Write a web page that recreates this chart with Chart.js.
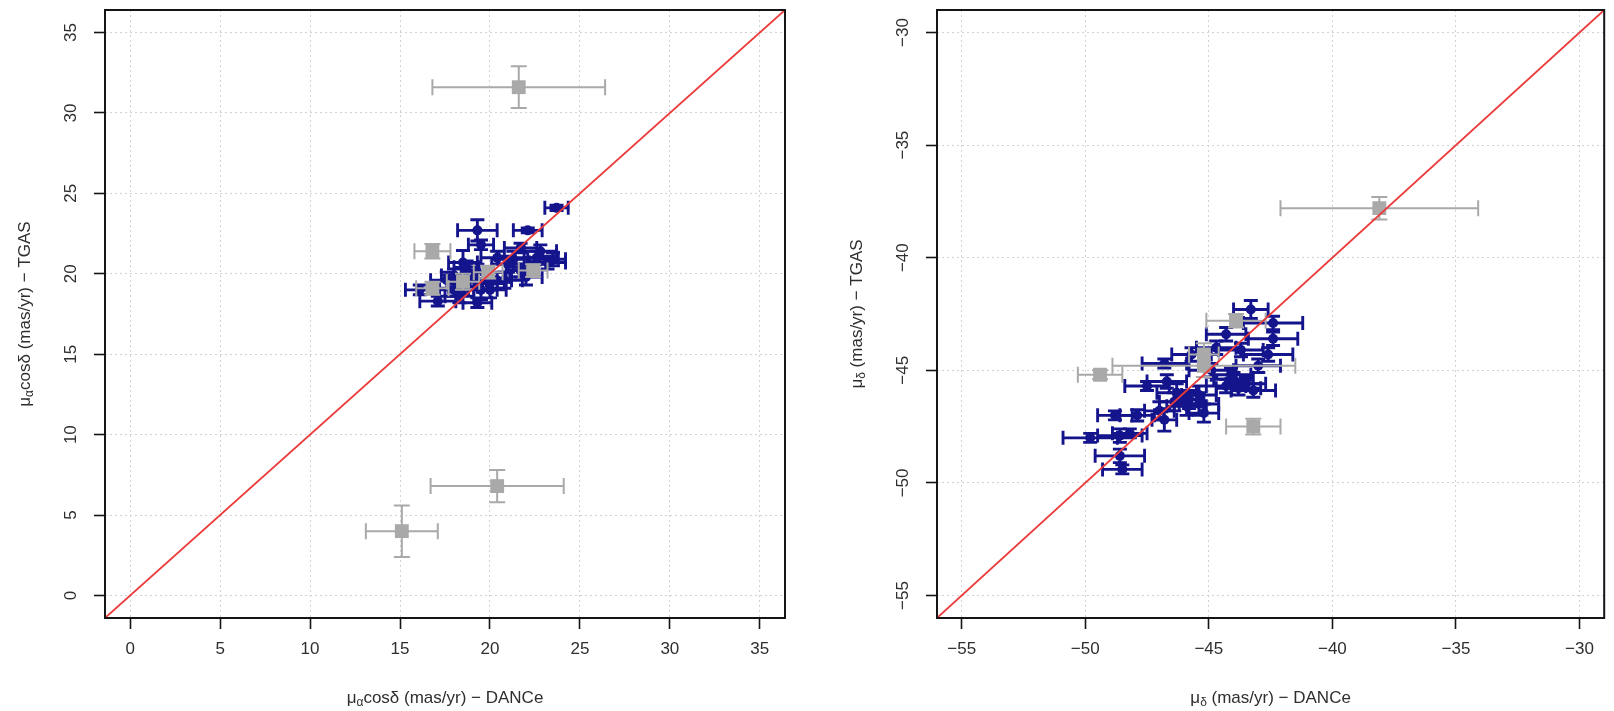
<!DOCTYPE html>
<html>
<head>
<meta charset="utf-8">
<script src="https://cdn.jsdelivr.net/npm/chart.js@4.4.1/dist/chart.umd.min.js"></script>
<style>
    body { margin: 0; background: #fff; }
    .wrap { position: relative; width: 1614px; height: 711px; }
    .panel { position: absolute; top: 0; height: 711px; }
    #panelRa { left: 0; width: 800px; }
    #panelDec { left: 800px; width: 814px; }
</style>
</head>
<body>
<div class="wrap">
    <div class="panel" id="panelRa"><canvas id="raChart"></canvas></div>
    <div class="panel" id="panelDec"><canvas id="decChart"></canvas></div>
</div>
<script>
// pmRA (mu_alpha cos delta), mas/yr -- members
const raMemDance = [23.7, 19.3, 22.1, 21.7, 19.5, 18.5, 20.4, 21.3, 22.6, 23.2, 21.0, 19.3, 18.7, 17.6, 17.1, 18.3,
                    19.3, 20.0, 20.8, 22.0, 21.7, 20.4, 19.5, 18.0, 16.1, 18.9, 22.8, 23.5, 20.0, 18.0, 22.2, 18.5];
const raMemTgas  = [24.1, 22.7, 22.7, 21.6, 21.8, 20.7, 21.0, 20.9, 21.0, 20.7, 20.6, 20.1, 20.4, 19.6, 18.3, 18.6,
                    18.2, 19.0, 19.6, 19.8, 20.2, 19.6, 19.0, 19.0, 19.0, 19.7, 21.4, 20.9, 19.4, 19.9, 20.6, 19.2];
const raMemErrDance = [0.65, 1.1, 0.8, 0.9, 0.7, 0.8, 0.9, 0.8, 1.2, 1.0, 0.9, 0.9, 0.7, 0.9, 1.0, 0.8,
                       0.8, 0.9, 1.0, 0.9, 0.8, 0.8, 0.9, 0.8, 0.8, 0.9, 0.9, 0.7, 0.8, 0.7, 0.9, 0.8];
const raMemErrTgas  = [0.17, 0.66, 0.15, 0.3, 0.3, 0.75, 0.4, 0.5, 0.4, 0.4, 0.5, 0.5, 0.4, 0.5, 0.3, 0.4,
                       0.3, 0.5, 0.5, 0.5, 0.4, 0.5, 0.6, 0.4, 0.3, 0.5, 0.4, 0.4, 0.4, 0.4, 0.4, 0.4];
// pmRA -- other sources
const raOthDance = [21.6, 20.4, 15.1, 16.8, 16.8, 18.5, 19.9, 22.4];
const raOthTgas  = [31.6, 6.8, 4.0, 21.4, 19.1, 19.5, 20.1, 20.2];
const raOthErrDance = [4.8, 3.7, 2.0, 1.0, 0.9, 0.9, 0.8, 0.8];
const raOthErrTgas  = [1.3, 1.0, 1.6, 0.45, 0.4, 0.5, 0.4, 0.4];

// pmDec (mu_delta), mas/yr -- members
const decMemDance = [-49.8, -48.8, -47.9, -48.6, -48.5, -48.6, -48.2, -47.5, -46.7, -46.3, -46.8, -47.0, -45.9, -45.4,
                     -45.4, -45.2, -44.0, -43.8, -43.5, -43.2, -44.3, -45.8, -46.4, -43.3, -42.4, -42.4, -43.7, -44.3,
                     -43.0, -44.1, -46.8, -45.7, -44.7, -44.9, -42.6];
const decMemTgas  = [-48.0, -47.0, -47.0, -48.8, -49.4, -47.9, -47.8, -45.7, -45.5, -46.0, -47.2, -46.8, -46.6, -46.1,
                     -46.5, -46.9, -45.4, -45.8, -45.6, -45.9, -45.7, -46.3, -46.4, -42.3, -42.9, -43.6, -44.1, -43.4,
                     -44.8, -45.2, -44.7, -44.3, -44.0, -45.0, -44.3];
const decMemErrDance = [1.1, 0.7, 0.7, 1.0, 0.8, 0.9, 0.7, 0.9, 0.8, 0.8, 0.5, 0.6, 0.8, 0.7,
                        0.8, 0.6, 0.8, 0.9, 0.8, 0.9, 0.8, 0.6, 0.6, 0.7, 1.2, 1.0, 0.9, 0.8,
                        0.9, 0.8, 0.9, 0.8, 0.8, 0.9, 1.0];
const decMemErrTgas  = [0.2, 0.2, 0.25, 0.3, 0.2, 0.3, 0.2, 0.2, 0.3, 0.4, 0.5, 0.4, 0.4, 0.4,
                        0.5, 0.4, 0.3, 0.3, 0.3, 0.3, 0.3, 0.4, 0.4, 0.4, 0.3, 0.3, 0.3, 0.3,
                        0.3, 0.3, 0.2, 0.3, 0.3, 0.3, 0.3];
// pmDec -- other sources
const decOthDance = [-38.1, -43.2, -49.4, -43.9, -45.2, -45.2];
const decOthTgas  = [-37.8, -47.5, -45.2, -42.8, -44.3, -44.8];
const decOthErrDance = [4.0, 1.1, 0.9, 1.2, 0.6, 3.7];
const decOthErrTgas  = [0.5, 0.35, 0.2, 0.3, 0.5, 0.5];

// axis ranges and tick step
const raLimits = [-1.4, 36.4];
const decLimits = [-56, -29];
const tickStep = 5;

const FONT = "'Liberation Sans', Arial, Helvetica, sans-serif";
const TEXT = '#2e2e2e';
const MEMBER = '#14148c';
const OTHER = '#a9a9a9';

function toPoints(xs, ys) {
    return xs.map((x, i) => ({ x: x, y: ys[i] }));
}

function fmt(v) {
    return String(v).replace('-', '\u2212');
}

// draws x/y error bars with flat caps right before the owning dataset
const errorBars = {
    id: 'errorBars',
    beforeDatasetDraw(chart, args) {
        const ds = chart.data.datasets[args.index];
        if (!ds.errX) return;
        const xs = chart.scales.x, ys = chart.scales.y, ctx = chart.ctx, a = chart.chartArea;
        const cap = ds.capSize;
        ctx.save();
        ctx.beginPath();
        ctx.rect(a.left, a.top, a.right - a.left, a.bottom - a.top);
        ctx.clip();
        ctx.strokeStyle = ds.barColor;
        ctx.lineWidth = ds.barWidth;
        ds.data.forEach((p, i) => {
            const px = xs.getPixelForValue(p.x), py = ys.getPixelForValue(p.y);
            const x0 = xs.getPixelForValue(p.x - ds.errX[i]), x1 = xs.getPixelForValue(p.x + ds.errX[i]);
            const y0 = ys.getPixelForValue(p.y - ds.errY[i]), y1 = ys.getPixelForValue(p.y + ds.errY[i]);
            ctx.beginPath();
            ctx.moveTo(x0, py); ctx.lineTo(x1, py);
            ctx.moveTo(x0, py - cap); ctx.lineTo(x0, py + cap);
            ctx.moveTo(x1, py - cap); ctx.lineTo(x1, py + cap);
            ctx.moveTo(px, y0); ctx.lineTo(px, y1);
            ctx.moveTo(px - cap, y0); ctx.lineTo(px + cap, y0);
            ctx.moveTo(px - cap, y1); ctx.lineTo(px + cap, y1);
            ctx.stroke();
        });
        ctx.restore();
    }
};

// text pieces: [string, isSubscript]
function drawRich(ctx, parts, size) {
    const subSize = Math.round(size * 0.7);
    let total = 0;
    parts.forEach(([t, sub]) => {
        ctx.font = (sub ? subSize : size) + 'px ' + FONT;
        total += ctx.measureText(t).width;
    });
    let x = -total / 2;
    parts.forEach(([t, sub]) => {
        ctx.font = (sub ? subSize : size) + 'px ' + FONT;
        ctx.fillText(t, x, sub ? size * 0.3 : 0);
        x += ctx.measureText(t).width;
    });
}

// frame, rotated y tick labels and axis titles
const frame = {
    id: 'frame',
    afterDraw(chart, args, opts) {
        const ctx = chart.ctx, a = chart.chartArea, ys = chart.scales.y;
        ctx.save();
        ctx.strokeStyle = '#151515';
        ctx.lineWidth = 2;
        ctx.strokeRect(a.left, a.top, a.right - a.left, a.bottom - a.top);

        ctx.fillStyle = TEXT;
        ctx.textBaseline = 'middle';
        ys.ticks.forEach(t => {
            const y = ys.getPixelForValue(t.value);
            ctx.save();
            ctx.translate(a.left - 34, y);
            ctx.rotate(-Math.PI / 2);
            ctx.font = '17px ' + FONT;
            ctx.textAlign = 'center';
            ctx.fillText(fmt(t.value), 0, 0);
            ctx.restore();
        });

        ctx.textAlign = 'left';
        ctx.save();
        ctx.translate((a.left + a.right) / 2, a.bottom + 80);
        drawRich(ctx, opts.xTitle, 17);
        ctx.restore();

        ctx.save();
        ctx.translate(a.left - 80, (a.top + a.bottom) / 2);
        ctx.rotate(-Math.PI / 2);
        drawRich(ctx, opts.yTitle, 17);
        ctx.restore();
        ctx.restore();
    }
};

function makeChart(id, cfg) {
    const axis = (lim) => ({
        type: 'linear',
        min: lim[0],
        max: lim[1],
        ticks: {
            stepSize: tickStep,
            includeBounds: false,
            color: TEXT,
            font: { family: FONT, size: 17 },
            padding: 10,
            maxRotation: 0,
            callback: v => fmt(v)
        },
        grid: { color: '#d2d2d2', lineWidth: 1, tickLength: 11, tickColor: '#151515', tickWidth: 1.6 },
        border: { display: false, dash: [2, 3] }
    });
    const xAxis = axis(cfg.limits);
    xAxis.afterFit = s => { s.height = 93; };
    const yAxis = axis(cfg.limits);
    yAxis.ticks.display = false;
    yAxis.afterFit = s => { s.width = cfg.yWidth; };

    return new Chart(document.getElementById(id), {
        type: 'scatter',
        data: {
            datasets: [
                {
                    label: 'x = y',
                    type: 'line',
                    data: toPoints(cfg.limits, cfg.limits),
                    borderColor: '#ec3b3b',
                    borderWidth: 1.8,
                    pointRadius: 0,
                    showLine: true
                },
                {
                    label: 'other',
                    data: toPoints(cfg.othX, cfg.othY),
                    errX: cfg.othEx, errY: cfg.othEy,
                    barColor: OTHER, barWidth: 2, capSize: 8,
                    pointStyle: 'rect',
                    pointRadius: 9.8,
                    backgroundColor: OTHER,
                    borderWidth: 0
                },
                {
                    label: 'members',
                    data: toPoints(cfg.memX, cfg.memY),
                    errX: cfg.memEx, errY: cfg.memEy,
                    barColor: MEMBER, barWidth: 2.9, capSize: 7,
                    pointRadius: 5,
                    backgroundColor: MEMBER,
                    borderWidth: 0
                }
            ]
        },
        options: {
            responsive: true,
            maintainAspectRatio: false,
            animation: false,
            layout: { padding: { top: 10, right: cfg.padRight, left: 0, bottom: 0 } },
            scales: { x: xAxis, y: yAxis },
            plugins: {
                legend: { display: false },
                tooltip: { enabled: false },
                frame: { xTitle: cfg.xTitle, yTitle: cfg.yTitle }
            }
        },
        plugins: [errorBars, frame]
    });
}

makeChart('raChart', {
    limits: raLimits, yWidth: 105, padRight: 15,
    memX: raMemDance, memY: raMemTgas, memEx: raMemErrDance, memEy: raMemErrTgas,
    othX: raOthDance, othY: raOthTgas, othEx: raOthErrDance, othEy: raOthErrTgas,
    xTitle: [['\u03bc', false], ['\u03b1', true], ['cos\u03b4 (mas/yr) \u2212 DANCe', false]],
    yTitle: [['\u03bc', false], ['\u03b1', true], ['cos\u03b4 (mas/yr) \u2212 TGAS', false]]
});

makeChart('decChart', {
    limits: decLimits, yWidth: 137, padRight: 2,
    memX: decMemDance, memY: decMemTgas, memEx: decMemErrDance, memEy: decMemErrTgas,
    othX: decOthDance, othY: decOthTgas, othEx: decOthErrDance, othEy: decOthErrTgas,
    xTitle: [['\u03bc', false], ['\u03b4', true], [' (mas/yr) \u2212 DANCe', false]],
    yTitle: [['\u03bc', false], ['\u03b4', true], [' (mas/yr) \u2212 TGAS', false]]
});
</script>
</body>
</html>
